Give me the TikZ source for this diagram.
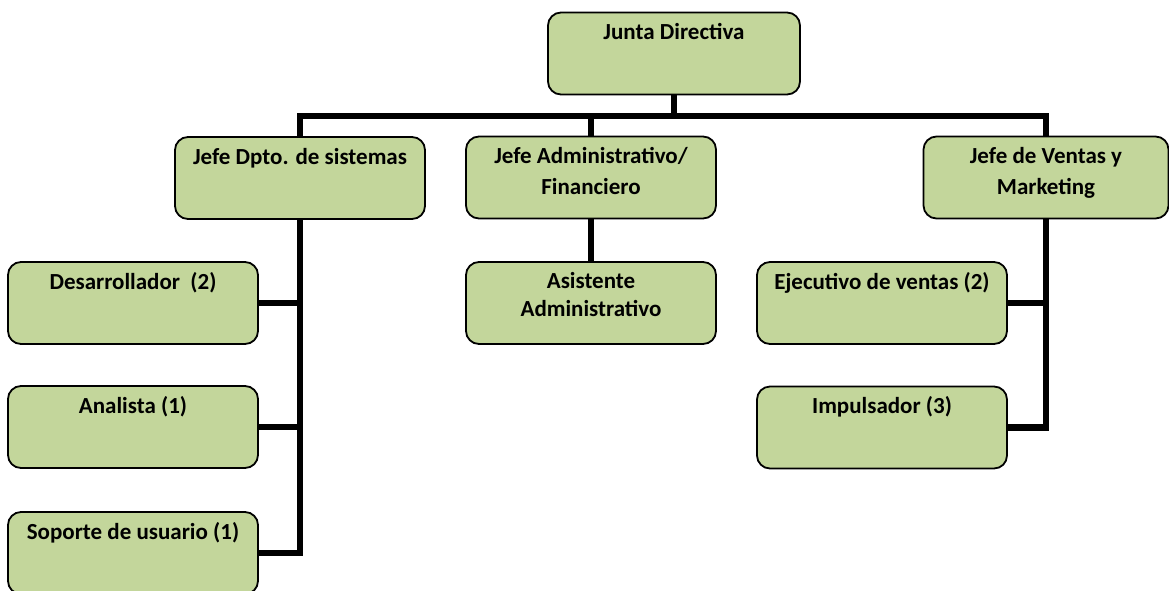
\documentclass[tikz,border=0pt]{standalone}
\usepackage{fontspec}
\setmainfont{Carlito}
\usetikzlibrary{backgrounds}
\definecolor{boxgreen}{RGB}{195,214,155}
\tikzset{
  orgbox/.style={draw=black, line width=1.8pt, fill=boxgreen, rounded corners=13pt,
    minimum width=250pt, minimum height=82pt, inner sep=0pt},
  lbl/.style={anchor=north, inner sep=0pt, align=center,
    font=\bfseries\fontsize{23}{28}\selectfont},
  widelbl/.style={lbl, font=\bfseries\fontsize{23}{31}\selectfont},
  conn/.style={line width=6.5pt, line join=miter, line cap=butt},
}
\newcommand{\fl}{\rule{0pt}{18pt}}
\begin{document}
\begin{tikzpicture}[x=1pt,y=-1pt]
\useasboundingbox (0,0) rectangle (1169,590);
\clip (0,0) rectangle (1169,590);
% boxes
\node[orgbox, minimum width=252pt] (jd) at (674,53.5) {};
\node[orgbox] (js) at (300,178) {};
\node[orgbox] (ja) at (591,177.5) {};
\node[orgbox, minimum width=245pt] (jv) at (1046,177.5) {};
\node[orgbox] (as) at (591,303) {};
\node[orgbox] (de) at (133,303) {};
\node[orgbox] (an) at (133,427) {};
\node[orgbox] (so) at (133,553) {};
\node[orgbox] (ej) at (882,303) {};
\node[orgbox] (im) at (882,427.5) {};
% labels
\node[lbl] (tjd) at ([yshift=-10pt]jd.north) {\fl Junta Directiva};
\node[lbl] (tjs) at ([yshift=-10pt]js.north) {\fl Jefe Dpto. de sistemas};
\node[widelbl] (tja) at ([yshift=-10pt]ja.north) {\fl Jefe Administrativo/\\Financiero};
\node[widelbl] (tjv) at ([yshift=-10pt]jv.north) {\fl Jefe de Ventas y\\Marketing};
\node[lbl] (tas) at ([yshift=-9pt]as.north) {\fl Asistente\\Administrativo};
\node[lbl] (tde) at ([yshift=-10pt]de.north) {\fl Desarrollador\ \ (2)};
\node[lbl] (tan) at ([yshift=-10pt]an.north) {\fl Analista (1)};
\node[lbl] (tso) at ([yshift=-10pt]so.north) {\fl Soporte de usuario (1)};
\node[lbl] (tej) at ([yshift=-10pt]ej.north) {\fl Ejecutivo de ventas (2)};
\node[lbl] (tim) at ([yshift=-10pt]im.north) {\fl Impulsador (3)};
% connectors
\coordinate (bus) at (0,116);
\begin{pgfonlayer}{background}
\draw[conn] (js.north) |- (bus -| ja.north) -| (jv.north);
\draw[conn] (jd.south) -- (jd.south |- bus);
\draw[conn] (ja.north) -- (ja.north |- bus);
\draw[conn] (ja.south) -- (as.north);
\draw[conn] (js.south) |- (so.east);
\draw[conn] (de.east) -- (de.east -| js.south);
\draw[conn] (an.east) -- (an.east -| js.south);
\draw[conn] (jv.south) |- (im.east);
\draw[conn] (ej.east) -- (ej.east -| jv.south);
\end{pgfonlayer}
\end{tikzpicture}
\end{document}
